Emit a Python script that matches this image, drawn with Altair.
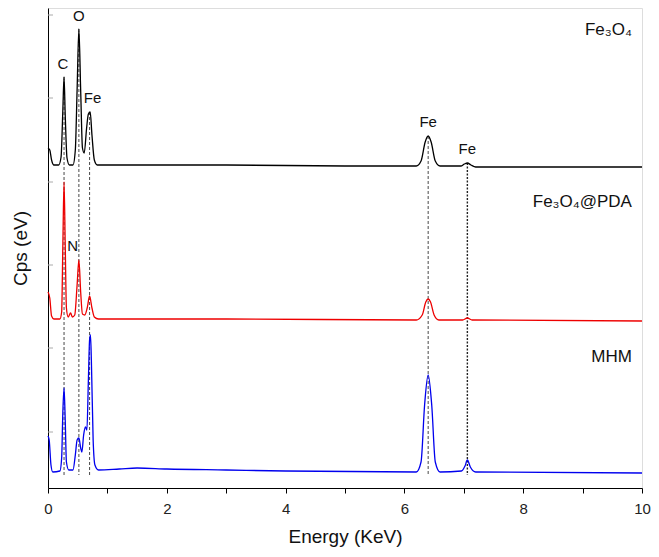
import altair as alt
import pandas as pd

# ---- data (energy in keV, intensity in arbitrary stacked units) ----
fe3o4_e = [0.00, 0.03, 0.06, 0.10, 0.18, 0.22, 0.25, 0.27, 0.29, 0.32, 0.36, 0.42, 0.46, 0.49, 0.52,
           0.55, 0.58, 0.61, 0.65, 0.68, 0.71, 0.74, 0.78, 0.83, 1.50, 3.00, 5.00, 6.20, 6.28, 6.35,
           6.40, 6.45, 6.52, 6.60, 6.95, 7.01, 7.06, 7.12, 7.20, 10.0]
fe3o4_i = [340, 338, 328, 323, 323, 331, 378, 411, 373, 330, 323, 323, 338, 398, 459,
           398, 340, 335, 360, 374, 376, 353, 328, 323, 323, 323, 322, 322, 327, 346,
           352, 346, 327, 322, 322, 324, 325, 323, 321, 321]

pda_e = [0.00, 0.03, 0.06, 0.10, 0.20, 0.23, 0.25, 0.27, 0.29, 0.31, 0.34, 0.38, 0.41, 0.45, 0.49,
         0.52, 0.55, 0.58, 0.62, 0.66, 0.70, 0.74, 0.78, 0.85, 3.00, 6.20, 6.30, 6.36, 6.40, 6.44,
         6.50, 6.58, 6.98, 7.06, 7.14, 10.0]
pda_i = [196, 190, 172, 169, 169, 176, 243, 306, 243, 180, 171, 175, 171, 173, 203,
         228, 196, 174, 173, 180, 192, 180, 171, 169, 169, 168, 173, 186, 189, 186,
         173, 168, 168, 170, 168, 167]

mhm_e = [0.00, 0.02, 0.05, 0.08, 0.20, 0.23, 0.25, 0.27, 0.29, 0.31, 0.35, 0.42, 0.46, 0.49, 0.52,
         0.55, 0.57, 0.60, 0.63, 0.655, 0.68, 0.70, 0.715, 0.73, 0.76, 0.79, 0.85, 1.20, 1.50, 2.00,
         3.00, 4.00, 6.20, 6.28, 6.34, 6.40, 6.46, 6.52, 6.60, 6.96, 7.02, 7.06, 7.11, 7.20, 10.0]
mhm_i = [52, 48, 23, 16, 17, 30, 76, 100, 68, 26, 18, 18, 33, 48, 50,
         40, 36, 53, 61, 58, 108, 148, 153, 128, 48, 23, 18, 19, 20, 19,
         18, 17, 16, 26, 83, 113, 83, 26, 16, 17, 22, 28, 21, 16, 15]

series_names = ["Fe3O4", "Fe3O4@PDA", "MHM"]
series_colors = ["#000000", "#ee0000", "#0000ee"]

dash_e = [0.27, 0.52, 0.70, 6.40]
dash_top = [411, 459, 376, 352]
dot_e = [7.06]
dot_top = [325]
line_bottom = 13

peak_text = ["C", "O", "Fe", "N", "Fe", "Fe"]
peak_e = [0.25, 0.52, 0.75, 0.415, 6.40, 7.06]
peak_y = [424, 472, 390, 242, 366, 339]

sample_text = ["Fe\u2083O\u2084", "Fe\u2083O\u2084@PDA", "MHM"]
sample_e = [9.83, 9.83, 9.83]
sample_y = [458, 286, 131]

ytick_vals = [473, 390, 306, 223, 140, 56]
x_ticks = list(range(0, 11))

# ---- tables ----
rows = []
for name, es, vs in zip(series_names, [fe3o4_e, pda_e, mhm_e], [fe3o4_i, pda_i, mhm_i]):
    for e, v in zip(es, vs):
        rows.append({"series": name, "E": e, "I": v})
spec_df = pd.DataFrame(rows)

dash_df = pd.DataFrame({"E": dash_e, "top": dash_top, "bot": [line_bottom] * len(dash_e)})
dot_df = pd.DataFrame({"E": dot_e, "top": dot_top, "bot": [line_bottom] * len(dot_e)})
peak_df = pd.DataFrame({"E": peak_e, "y": peak_y, "t": peak_text})
sample_df = pd.DataFrame({"E": sample_e, "y": sample_y, "t": sample_text})
ytick_df = pd.DataFrame({"y": ytick_vals})

FONT = "Liberation Sans"
xscale = alt.Scale(domain=[0, 10], nice=False, zero=False)
yscale = alt.Scale(domain=[0, 480], nice=False, zero=False)

x_axis = alt.Axis(values=x_ticks, format="d",
                  labelExpr="datum.value % 2 == 0 ? datum.label : ''",
                  title="Energy (KeV)", grid=False, tickSize=5, tickColor="#000", domainColor="#000",
                  labelFont=FONT, labelFontSize=15, labelColor="#222", labelPadding=8,
                  titleFont=FONT, titleFontSize=19, titleFontWeight="normal", titleColor="#111",
                  titlePadding=11, labelFlush=False)
y_axis = alt.Axis(labels=False, ticks=False, grid=False, title="Cps (eV)", domainColor="#000",
                  titleFont=FONT, titleFontSize=19, titleFontWeight="normal", titleColor="#111",
                  titlePadding=18)

lines = alt.Chart(spec_df).mark_line(strokeWidth=1.3, interpolate="monotone").encode(
    x=alt.X("E:Q", scale=xscale, axis=x_axis),
    y=alt.Y("I:Q", scale=yscale, axis=y_axis),
    color=alt.Color("series:N", scale=alt.Scale(domain=series_names, range=series_colors), legend=None),
    detail="series:N",
)

dashes = alt.Chart(dash_df).mark_rule(strokeDash=[3, 2], strokeWidth=0.9, color="#333").encode(
    x=alt.X("E:Q", scale=xscale), y=alt.Y("top:Q", scale=yscale), y2="bot:Q")

dots = alt.Chart(dot_df).mark_rule(strokeDash=[2, 1.5], strokeWidth=1.4, color="#222").encode(
    x=alt.X("E:Q", scale=xscale), y=alt.Y("top:Q", scale=yscale), y2="bot:Q")

yticks = alt.Chart(ytick_df).mark_rule(color="#aaaaaa", strokeWidth=1).encode(
    y=alt.Y("y:Q", scale=yscale), x=alt.value(0), x2=alt.value(5))

peaks = alt.Chart(peak_df).mark_text(font=FONT, fontSize=15, color="#111", baseline="middle",
                                     align="center").encode(
    x=alt.X("E:Q", scale=xscale), y=alt.Y("y:Q", scale=yscale), text="t:N")

samples = alt.Chart(sample_df).mark_text(font=FONT, fontSize=17, color="#111", baseline="middle",
                                         align="right").encode(
    x=alt.X("E:Q", scale=xscale), y=alt.Y("y:Q", scale=yscale), text="t:N")

chart = alt.layer(dashes, dots, yticks, lines, peaks, samples).properties(
    width=594, height=480,
    autosize=alt.AutoSizeParams(type="none"),
    padding={"left": 40, "top": 0, "right": 9, "bottom": 66},
).configure_view(stroke="#000", strokeWidth=1.2).configure(background="white")

chart.save("out.html", embed_options={"renderer": "svg", "actions": False})
